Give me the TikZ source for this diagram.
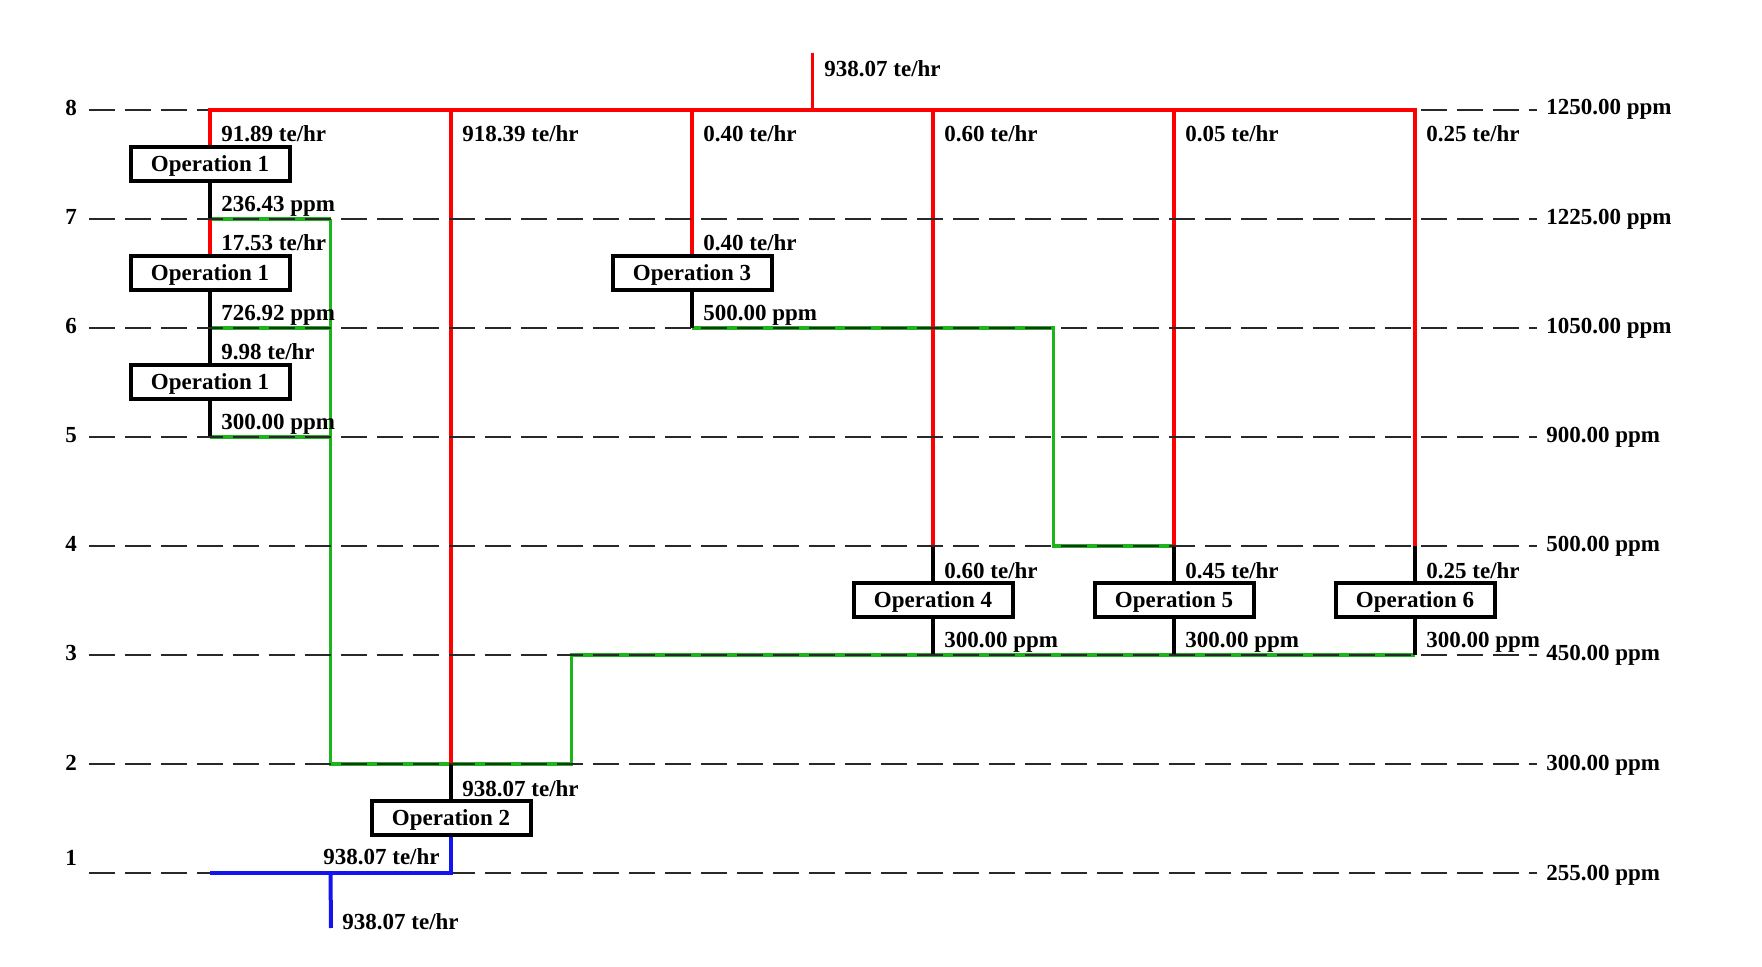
\documentclass[tikz,border=0pt]{standalone}
\usepackage{fontspec}
\setmainfont{Liberation Serif}
\definecolor{redline}{RGB}{255,0,0}
\definecolor{greenline}{RGB}{30,180,30}
\definecolor{blueline}{RGB}{20,20,240}
\definecolor{dashcol}{RGB}{40,40,40}
\begin{document}
\begin{tikzpicture}[x=0.5pt,y=-0.5pt,
  every node/.style={font=\fontsize{11.5pt}{13pt}\selectfont\bfseries},
  opbox/.style={draw=black,line width=2pt,fill=white,minimum width=79.5pt,minimum height=17pt,inner sep=0pt,text height=8pt,text depth=0.5pt},
  lab/.style={inner sep=0pt,anchor=base west},
  labe/.style={inner sep=0pt,anchor=base east},
  labc/.style={inner sep=0pt,anchor=base},
  redl/.style={draw=redline,line width=1.65pt},
  greenl/.style={draw=greenline,line width=1.85pt,line join=miter},
  blackl/.style={draw=black,line width=1.6pt,line join=miter},
  bluel/.style={draw=blueline,line width=2pt,line join=miter},
  gridl/.style={draw=dashcol,line width=1pt,dash pattern=on 13pt off 5pt}]
\useasboundingbox (0,0) rectangle (1762,967);
% grid points
\foreach \i in {0,...,10}{
  \foreach \k in {1,...,8}{
    \coordinate (p\i-\k) at ({210+120.5*\i},{110+109*(8-\k)});
  }
}
\foreach \k in {1,...,8}{
  \coordinate (gl\k) at (89,{110+109*(8-\k)});
  \coordinate (gr\k) at (1537,{110+109*(8-\k)});
}
\coordinate (inlet) at (812.5,53);
\coordinate (blueout) at (331,928);
% operation boxes
\node[opbox] (op1a) at (210,164) {Operation 1};
\node[opbox] (op1b) at (210,273) {Operation 1};
\node[opbox] (op1c) at (210,382) {Operation 1};
\node[opbox] (op3) at (692,273) {Operation 3};
\node[opbox] (op4) at (933,600) {Operation 4};
\node[opbox] (op5) at (1174,600) {Operation 5};
\node[opbox] (op6) at (1415,600) {Operation 6};
\node[opbox] (op2) at (451,818) {Operation 2};
% green lines
\path[greenl] (p0-7) -- (p1-7);
\path[greenl] (p0-6) -- (p1-6);
\path[greenl] (p0-5) -- (p1-5);
\path[greenl] (p1-7) -- (p1-2) -- (p3-2) -- (p3-3) -- (p10-3);
\path[greenl] (p4-6) -- (p7-6) -- (p7-4) -- (p8-4);
% red verticals
\path[redl] (p0-8) -- (op1a.north);
\path[redl] (p0-7) -- (op1b.north);
\path[redl] (p2-8) -- (p2-2);
\path[redl] (p4-8) -- (op3.north);
\path[redl] (p6-8) -- (p6-4);
\path[redl] (p8-8) -- (p8-4);
\path[redl] (p10-8) -- (p10-4);
\path[redl] (inlet) -- (p5-8);
% black connectors
\path[blackl] (op1a.south) -- (p0-7);
\path[blackl] (op1b.south) -- (p0-6) -- (op1c.north);
\path[blackl] (op1c.south) -- (p0-5);
\path[blackl] (op3.south) -- (p4-6);
\path[blackl] (p6-4) -- (op4.north);
\path[blackl] (op4.south) -- (p6-3);
\path[blackl] (p8-4) -- (op5.north);
\path[blackl] (op5.south) -- (p8-3);
\path[blackl] (p10-4) -- (op6.north);
\path[blackl] (op6.south) -- (p10-3);
\path[blackl] (p2-2) -- (op2.north);
% dashed level lines
\foreach \k in {1,...,8}{
  \path[gridl] (gl\k) -- (gr\k);
}
% red header and blue lines on top
\path[redl,line cap=rect] (p0-8) -- (p10-8);
\path[bluel] (op2.south) -- (p2-1) -- (p0-1);
\path[bluel] (p1-1) -- (blueout);
% redraw boxes on top
\node[opbox] at (op1a) {Operation 1};
\node[opbox] at (op1b) {Operation 1};
\node[opbox] at (op1c) {Operation 1};
\node[opbox] at (op3) {Operation 3};
\node[opbox] at (op4) {Operation 4};
\node[opbox] at (op5) {Operation 5};
\node[opbox] at (op6) {Operation 6};
\node[opbox] at (op2) {Operation 2};
% flow labels
\node[lab] (f1) at ([shift={(11,32)}]p0-8) {91.89 te/hr};
\node[lab] (f2) at ([shift={(11,32)}]p2-8) {918.39 te/hr};
\node[lab] (f3) at ([shift={(11,32)}]p4-8) {0.40 te/hr};
\node[lab] (f4) at ([shift={(11,32)}]p6-8) {0.60 te/hr};
\node[lab] (f5) at ([shift={(11,32)}]p8-8) {0.05 te/hr};
\node[lab] (f6) at ([shift={(11,32)}]p10-8) {0.25 te/hr};
\node[lab] (c1) at ([shift={(11,-7)}]p0-7) {236.43 ppm};
\node[lab] (f7) at ([shift={(11,32)}]p0-7) {17.53 te/hr};
\node[lab] (f8) at ([shift={(11,32)}]p4-7) {0.40 te/hr};
\node[lab] (c2) at ([shift={(11,-7)}]p0-6) {726.92 ppm};
\node[lab] (c3) at ([shift={(11,-7)}]p4-6) {500.00 ppm};
\node[lab] (f9) at ([shift={(11,32)}]p0-6) {9.98 te/hr};
\node[lab] (c4) at ([shift={(11,-7)}]p0-5) {300.00 ppm};
\node[lab] (f10) at ([shift={(11,33)}]p6-4) {0.60 te/hr};
\node[lab] (f11) at ([shift={(11,33)}]p8-4) {0.45 te/hr};
\node[lab] (f12) at ([shift={(11,33)}]p10-4) {0.25 te/hr};
\node[lab] (c5) at ([shift={(11,-7)}]p6-3) {300.00 ppm};
\node[lab] (c6) at ([shift={(11,-7)}]p8-3) {300.00 ppm};
\node[lab] (c7) at ([shift={(11,-7)}]p10-3) {300.00 ppm};
\node[lab] (f13) at ([shift={(11,32)}]p2-2) {938.07 te/hr};
\node[labe] (f14) at ([shift={(-11,-9)}]p2-1) {938.07 te/hr};
\node[lab] (f15) at ([shift={(11,1)}]blueout) {938.07 te/hr};
\node[lab] (f16) at ([shift={(11.5,24)}]inlet) {938.07 te/hr};
% right concentration labels
\node[lab] (r8) at ([shift={(9,5)}]gr8) {1250.00 ppm};
\node[lab] (r7) at ([shift={(9,6)}]gr7) {1225.00 ppm};
\node[lab] (r6) at ([shift={(9,6)}]gr6) {1050.00 ppm};
\node[lab] (r5) at ([shift={(9,6)}]gr5) {900.00 ppm};
\node[lab] (r4) at ([shift={(9,6)}]gr4) {500.00 ppm};
\node[lab] (r3) at ([shift={(9,6)}]gr3) {450.00 ppm};
\node[lab] (r2) at ([shift={(9,6)}]gr2) {300.00 ppm};
\node[lab] (r1) at ([shift={(9,7)}]gr1) {255.00 ppm};
% left level numbers
\foreach \k in {2,...,8}{
  \node[labc] (n\k) at ([shift={(-18,6)}]gl\k) {\k};
}
\node[labc] (n1) at ([shift={(-18,-8)}]gl1) {1};
\end{tikzpicture}
\end{document}
